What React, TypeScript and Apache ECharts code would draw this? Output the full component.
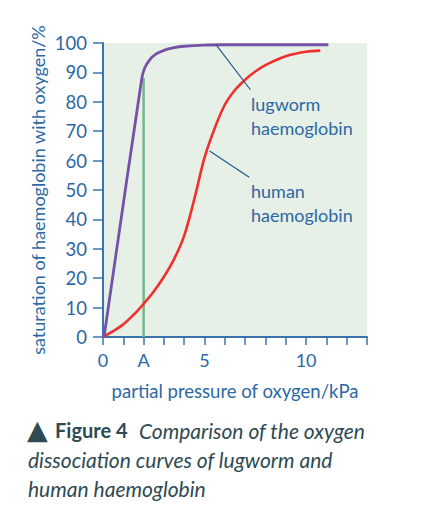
import React, { useEffect, useRef } from "react";
import * as echarts from "echarts";

const xTickLabels: Record<number, string> = { 0: "0", 2: "A", 5: "5", 10: "10" };
const yTicks = [0, 10, 20, 30, 40, 50, 60, 70, 80, 90, 100];

const humanX = [0, 0.5, 1, 1.5, 2, 2.5, 3, 3.5, 4, 4.5, 5, 5.5, 6, 6.5, 7, 7.5, 8, 9, 10, 10.7];
const humanY = [0, 2, 4.3, 7.5, 11.3, 15.5, 20.5, 26.5, 34.5, 47, 61, 71, 79, 84, 87.5, 90.3, 92.5, 95.5, 97, 97.4];

const lugwormX = [0.05, 1.9, 2.05, 2.3, 2.6, 3.0, 3.5, 4.0, 5.0, 6.0, 8.0, 11.1];
const lugwormY = [0, 87.5, 91.5, 94.3, 96.2, 97.5, 98.4, 98.9, 99.3, 99.4, 99.4, 99.4];

const markerX = [2, 2];
const markerY = [0, 88];

const lugLeaderX = [5.58, 7.26];
const lugLeaderY = [99.3, 84.1];
const humLeaderX = [5.25, 7.2];
const humLeaderY = [63.3, 54.3];

const zip = (xs: number[], ys: number[]) => xs.map((x, i) => [x, ys[i]]);

const BLUE = "#2c68a4";
const AXIS = "#3a74ad";
const FONT = "Lato";
const CAP = "#2e4a52";

export default function App() {
  const ref = useRef<HTMLDivElement>(null);
  useEffect(() => {
    if (!ref.current) return;
    const chart = echarts.init(ref.current, undefined, { renderer: "svg" });
    chart.setOption({
      animation: false,
      grid: {
        left: 103,
        right: 67,
        top: 43,
        bottom: 175,
        show: true,
        backgroundColor: "#e6f0e7",
        borderWidth: 0,
      },
      xAxis: {
        type: "value",
        min: 0,
        max: 13,
        interval: 1,
        axisLine: { show: true, lineStyle: { color: AXIS, width: 2 } },
        axisTick: { show: true, length: 8, lineStyle: { color: AXIS, width: 1.5 } },
        splitLine: { show: false },
        axisLabel: {
          color: BLUE,
          fontFamily: FONT,
          fontSize: 18,
          margin: 14,
          formatter: (v: number) => xTickLabels[v] ?? "",
        },
        name: "partial pressure of oxygen/kPa",
        nameLocation: "middle",
        nameGap: 44,
        nameTextStyle: { color: BLUE, fontFamily: FONT, fontSize: 18.5 },
      },
      yAxis: {
        type: "value",
        min: 0,
        max: 100,
        interval: 10,
        axisLine: { show: true, lineStyle: { color: AXIS, width: 2 } },
        axisTick: { show: true, length: 10, lineStyle: { color: AXIS, width: 1.5 } },
        splitLine: { show: false },
        axisLabel: {
          color: BLUE,
          fontFamily: FONT,
          fontSize: 18.5,
          margin: 16,
          formatter: (v: number) => (yTicks.includes(v) ? String(v) : ""),
        },
      },
      series: [
        {
          type: "line",
          data: zip(markerX, markerY),
          symbol: "none",
          lineStyle: { color: "#72b98a", width: 2.5 },
          silent: true,
          z: 1,
        },
        {
          type: "line",
          data: zip(humanX, humanY),
          symbol: "none",
          smooth: 0.35,
          lineStyle: { color: "#f0302e", width: 2.6 },
          silent: true,
          z: 2,
        },
        {
          type: "line",
          data: zip(lugwormX, lugwormY),
          symbol: "none",
          smooth: 0.35,
          lineStyle: { color: "#7652a6", width: 2.8 },
          silent: true,
          z: 3,
        },
        {
          type: "line",
          data: zip(lugLeaderX, lugLeaderY),
          symbol: "none",
          lineStyle: { color: "#1f5a8f", width: 1.2 },
          silent: true,
          z: 4,
        },
        {
          type: "line",
          data: zip(humLeaderX, humLeaderY),
          symbol: "none",
          lineStyle: { color: "#1f5a8f", width: 1.2 },
          silent: true,
          z: 4,
        },
      ],
      graphic: [
        {
          type: "text",
          x: 38,
          y: 190,
          rotation: Math.PI / 2,
          style: {
            text: "saturation of haemoglobin with oxygen/%",
            fill: BLUE,
            font: `18px ${FONT}`,
            textAlign: "center",
            textVerticalAlign: "middle",
          },
        },
        {
          type: "text",
          x: 251,
          y: 92,
          z: 10,
          style: {
            text: "lugworm\nhaemoglobin",
            fill: BLUE,
            font: `18px ${FONT}`,
            lineHeight: 24,
            textVerticalAlign: "top",
          },
        },
        {
          type: "text",
          x: 251,
          y: 179,
          z: 10,
          style: {
            text: "human\nhaemoglobin",
            fill: BLUE,
            font: `18px ${FONT}`,
            lineHeight: 24,
            textVerticalAlign: "top",
          },
        },
        {
          type: "text",
          x: 27,
          y: 429,
          style: {
            text: "▲",
            fill: CAP,
            font: `27px "DejaVu Sans"`,
            textVerticalAlign: "middle",
          },
        },
        {
          type: "text",
          x: 55,
          y: 430,
          style: {
            text: "Figure 4",
            fill: CAP,
            font: `bold 20px ${FONT}`,
            textVerticalAlign: "middle",
          },
        },
        {
          type: "text",
          x: 139,
          y: 430,
          style: {
            text: "Comparison of the oxygen",
            fill: CAP,
            font: `italic 21px ${FONT}`,
            textVerticalAlign: "middle",
          },
        },
        {
          type: "text",
          x: 28,
          y: 459,
          style: {
            text: "dissociation curves of lugworm and",
            fill: CAP,
            font: `italic 21px ${FONT}`,
            textVerticalAlign: "middle",
          },
        },
        {
          type: "text",
          x: 28,
          y: 488,
          style: {
            text: "human haemoglobin",
            fill: CAP,
            font: `italic 21px ${FONT}`,
            textVerticalAlign: "middle",
          },
        },
      ],
    });
    return () => chart.dispose();
  }, []);
  return (
    <div
      ref={ref}
      style={{ position: "absolute", left: 0, top: 0, width: 434, height: 512 }}
    />
  );
}
